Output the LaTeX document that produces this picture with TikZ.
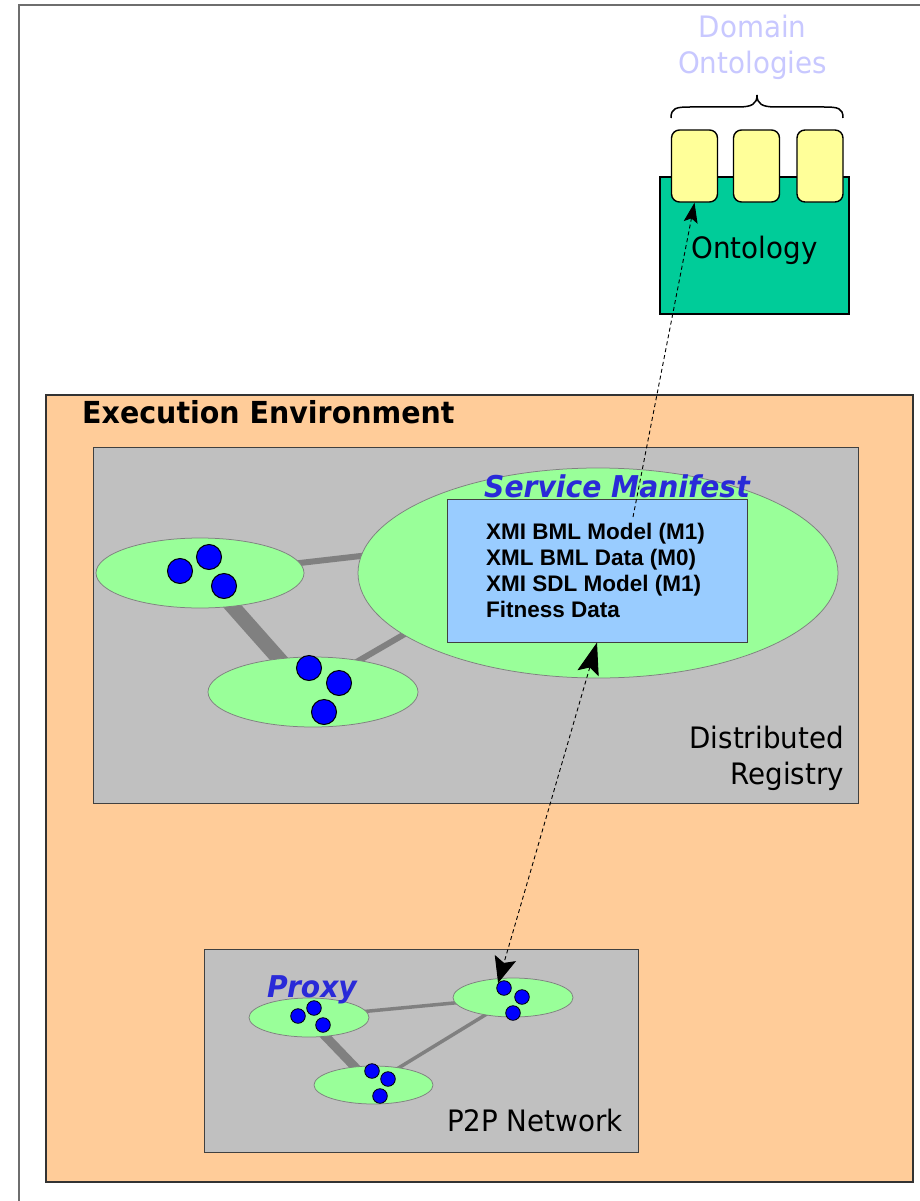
\documentclass[tikz,border=0pt]{standalone}
\usepackage{fontspec}
\setmainfont{DejaVu Sans}
\newfontfamily\tah[FakeStretch=0.94]{DejaVu Sans}
\newfontfamily\arialb{Liberation Sans}
\usetikzlibrary{shapes.geometric,arrows.meta}
\definecolor{envorange}{HTML}{FFCC99}
\definecolor{boxgray}{HTML}{C0C0C0}
\definecolor{ellgreen}{HTML}{99FF99}
\definecolor{ellgray}{HTML}{808080}
\definecolor{linkgray}{HTML}{808080}
\definecolor{dotblue}{HTML}{0000FF}
\definecolor{mfblue}{HTML}{99CCFF}
\definecolor{ontgreen}{HTML}{00CC99}
\definecolor{ontyellow}{HTML}{FFFF99}
\definecolor{titleblue}{HTML}{2A2AD8}
\definecolor{domainblue}{HTML}{C8C8FF}
\definecolor{framegray}{HTML}{6E6E6E}
\begin{document}
\begin{tikzpicture}[x=1pt,y=-1pt,
  regell/.style={ellipse,draw=ellgray,line width=0.75pt,fill=ellgreen,inner sep=0pt},
  bigdot/.style={circle,draw=black,line width=1pt,fill=dotblue,minimum size=25pt,inner sep=0pt},
  smalldot/.style={circle,draw=black,line width=0.8pt,fill=dotblue,minimum size=14.6pt,inner sep=0pt},
  link/.style={draw=linkgray,line cap=butt},
  plainbox/.style={rectangle,inner sep=0pt},
  lbl/.style={inner sep=0pt,font=\tah\fontsize{29.5}{34}\selectfont},
  ttl/.style={inner sep=0pt,text=titleblue,font=\tah\bfseries\itshape\fontsize{30}{34}\selectfont},
  mfline/.style={inner sep=0pt,anchor=base west,font=\arialb\bfseries\fontsize{22.5}{26}\selectfont},
  yelbox/.style={rectangle,draw=black,line width=1.4pt,fill=ontyellow,rounded corners=8pt,minimum width=46pt,minimum height=72pt,inner sep=0pt},
  dashline/.style={draw=black,line width=0.9pt,dash pattern=on 4pt off 3pt}
]
\useasboundingbox (0,0) rectangle (920,1201);
\fill[white] (0,0) rectangle (920,1201);
\draw[line width=2pt,framegray] (18.5,1215) -- (18.5,5) -- (935,5);

% execution environment
\node[plainbox,draw=black!80,line width=1.2pt,fill=envorange,minimum width=867pt,minimum height=787pt] (env) at (479.5,788.5) {};
\node[inner sep=0pt,anchor=base west,font=\tah\bfseries\fontsize{30.3}{34}\selectfont] (envlbl) at (82,423) {Execution Environment};

% distributed registry
\node[plainbox,draw=black!75,line width=1pt,fill=boxgray,minimum width=765pt,minimum height=356pt] (reg) at (475.5,625) {};
\coordinate (l1a) at (250,568.7);
\coordinate (l1b) at (420,549.2);
\coordinate (l2a) at (215,586.7);
\coordinate (l2b) at (300,682.6);
\coordinate (l3a) at (330,677.4);
\coordinate (l3b) at (440,613.5);
\draw[link,line width=6pt] (l1a) -- (l1b);
\draw[link,line width=15pt] (l2a) -- (l2b);
\draw[link,line width=6pt] (l3a) -- (l3b);
\node[regell,minimum width=480pt,minimum height=210pt] (big) at (598,573) {};
\node[regell,minimum width=208pt,minimum height=70pt] (rl) at (200,573) {};
\node[regell,minimum width=210pt,minimum height=70pt] (rb) at (313,692) {};
\node[bigdot] (rd1) at (180,571) {};
\node[bigdot] (rd2) at (209,557) {};
\node[bigdot] (rd3) at (224,586) {};
\node[bigdot] (rd4) at (309,668) {};
\node[bigdot] (rd5) at (339,683) {};
\node[bigdot] (rd6) at (324,712) {};
\node[plainbox,draw=black!75,line width=1pt,fill=mfblue,minimum width=300pt,minimum height=143pt] (mf) at (597,570.5) {};
\node[ttl,anchor=base west] (mftitle) at (484,497) {Service Manifest};
\node[mfline] (m1) at (486,539) {XMI BML Model (M1)};
\node[mfline] (m2) at (486,565) {XML BML Data (M0)};
\node[mfline] (m3) at (486,591) {XMI SDL Model (M1)};
\node[mfline] (m4) at (486,617) {Fitness Data};
\node[lbl,anchor=base east] (dr1) at (844,748) {Distributed};
\node[lbl,anchor=base east] (dr2) at (844,784) {Registry};

% p2p network
\node[plainbox,draw=black!75,line width=1pt,fill=boxgray,minimum width=434pt,minimum height=203pt] (p2p) at (421,1050.5) {};
\coordinate (pa1) at (340,1013.8);
\coordinate (pa2) at (480,1000.5);
\coordinate (pb1) at (315,1025.5);
\coordinate (pb2) at (365,1077.5);
\coordinate (pc1) at (385,1076.2);
\coordinate (pc2) at (500,1005.9);
\draw[link,line width=3.5pt] (pa1) -- (pa2);
\draw[link,line width=9pt] (pb1) -- (pb2);
\draw[link,line width=3.5pt] (pc1) -- (pc2);
\node[regell,minimum width=120pt,minimum height=39pt] (pp) at (309,1017.5) {};
\node[regell,minimum width=120pt,minimum height=39pt] (pr) at (513,997.5) {};
\node[regell,minimum width=119pt,minimum height=38pt] (pb) at (373.5,1085) {};
\node[smalldot] (pd1) at (504,988) {};
\node[smalldot] (pd2) at (522,997) {};
\node[smalldot] (pd3) at (513,1013) {};
\node[smalldot] (pd4) at (298,1016) {};
\node[smalldot] (pd5) at (314,1008) {};
\node[smalldot] (pd6) at (323,1025) {};
\node[smalldot] (pd7) at (372,1071) {};
\node[smalldot] (pd8) at (388,1079) {};
\node[smalldot] (pd9) at (380,1096) {};
\node[ttl,anchor=base west] (proxy) at (267,997) {Proxy};
\node[lbl,anchor=base east] (p2plbl) at (623,1131) {P2P Network};

% ontology
\node[plainbox,draw=black,line width=1.4pt,fill=ontgreen,minimum width=189pt,minimum height=137pt] (ont) at (754.5,245.5) {};
\node[yelbox] (y1) at (694.5,166) {};
\node[yelbox] (y2) at (756.5,166) {};
\node[yelbox] (y3) at (820,166) {};
\node[lbl,anchor=base] (ontlbl) at (754.5,258) {Ontology};
\draw[line width=1.5pt] (671,118) .. controls (671,108) and (676,107) .. (690,107) -- (738,107) .. controls (752,107) and (757,104) .. (757,95) .. controls (757,104) and (762,107) .. (776,107) -- (824,107) .. controls (838,107) and (843,108) .. (843,118);
\node[lbl,anchor=base,text=domainblue] (dom1) at (752.5,38) {Domain};
\node[lbl,anchor=base,text=domainblue] (dom2) at (752.5,73.5) {Ontologies};

% arrows
\coordinate (a1s) at (633,517);
\draw[dashline,-{Stealth[length=20pt,width=14pt,inset=4pt]}] (a1s) -- (y1.south);
\draw[dashline,{Stealth[length=32pt,width=22pt,inset=6pt]}-{Stealth[length=26pt,width=22pt,inset=5pt]}] (mf.south) -- (pd1.140);
\end{tikzpicture}
\end{document}
